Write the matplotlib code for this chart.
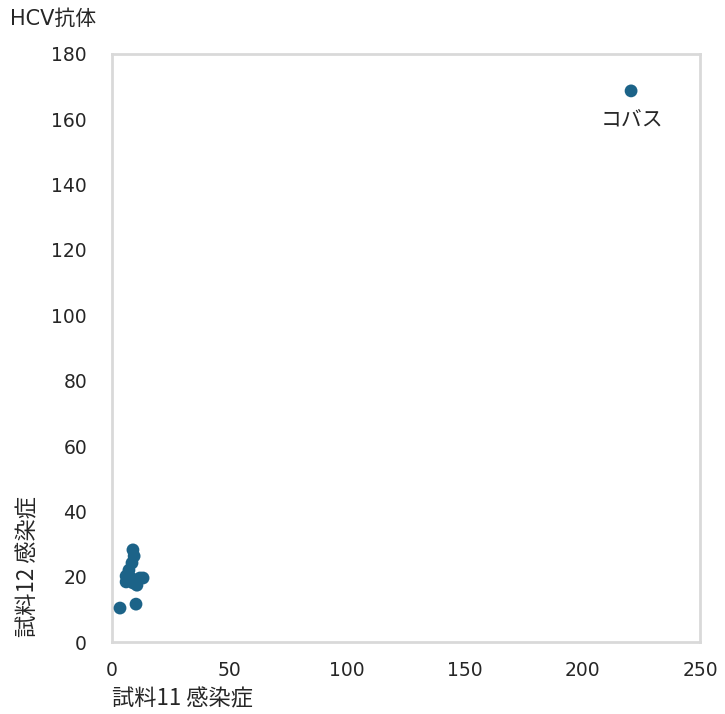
import matplotlib
matplotlib.use("Agg")
import matplotlib.pyplot as plt

plt.rcParams['font.family'] = ['DejaVu Sans', 'Noto Sans CJK JP']

x_vals = [8.9, 9.4, 8.5, 7.2, 6.0, 6.0, 8.1, 11.9, 13.2, 10.6, 8.9, 3.4, 10.2, 220.7]
y_vals = [28.2, 26.3, 24.2, 22.0, 20.2, 18.4, 19.6, 19.6, 19.6, 17.4, 18.1, 10.4, 11.6, 168.7]
label_text = "コバス"
label_point = (220.7, 168.7)
x_ticks = [0, 50, 100, 150, 200, 250]
y_ticks = [0, 20, 40, 60, 80, 100, 120, 140, 160, 180]

color = '#1c6388'
txt = '#262626'

fig = plt.figure(figsize=(7.25, 7.14), dpi=100)
ax = fig.add_axes([0.1545, 0.1008, 0.811, 0.8236])
ax.scatter(x_vals, y_vals, s=85, color=color, edgecolors='none', zorder=3)
ax.annotate(label_text, xy=label_point, xytext=(1, -13), textcoords='offset points',
            ha='center', va='top', fontsize=15, family=['Noto Sans CJK JP'], color=txt)
ax.set_xlim(0, 250)
ax.set_ylim(0, 180)
ax.set_xticks(x_ticks)
ax.set_yticks(y_ticks)
ax.tick_params(axis='both', length=0, labelsize=13.5, colors=txt)
ax.tick_params(axis='y', pad=18)
ax.tick_params(axis='x', pad=14)
for s in ax.spines.values():
    s.set_color('#d9d9d9')
    s.set_linewidth(2)

fig.text(0.014, 0.973, "HCV抗体", fontsize=15, ha='left', va='center',
         family=['DejaVu Sans', 'Noto Sans CJK JP'], color=txt)
fig.text(0.0386, 0.206, "試料12 感染症", fontsize=16, rotation=90, ha='center', va='center',
         family=['Noto Sans CJK JP'], color=txt)
fig.text(0.155, 0.021, "試料11 感染症", fontsize=16, ha='left', va='center',
         family=['Noto Sans CJK JP'], color=txt)

fig.savefig("out.png", dpi=100)
